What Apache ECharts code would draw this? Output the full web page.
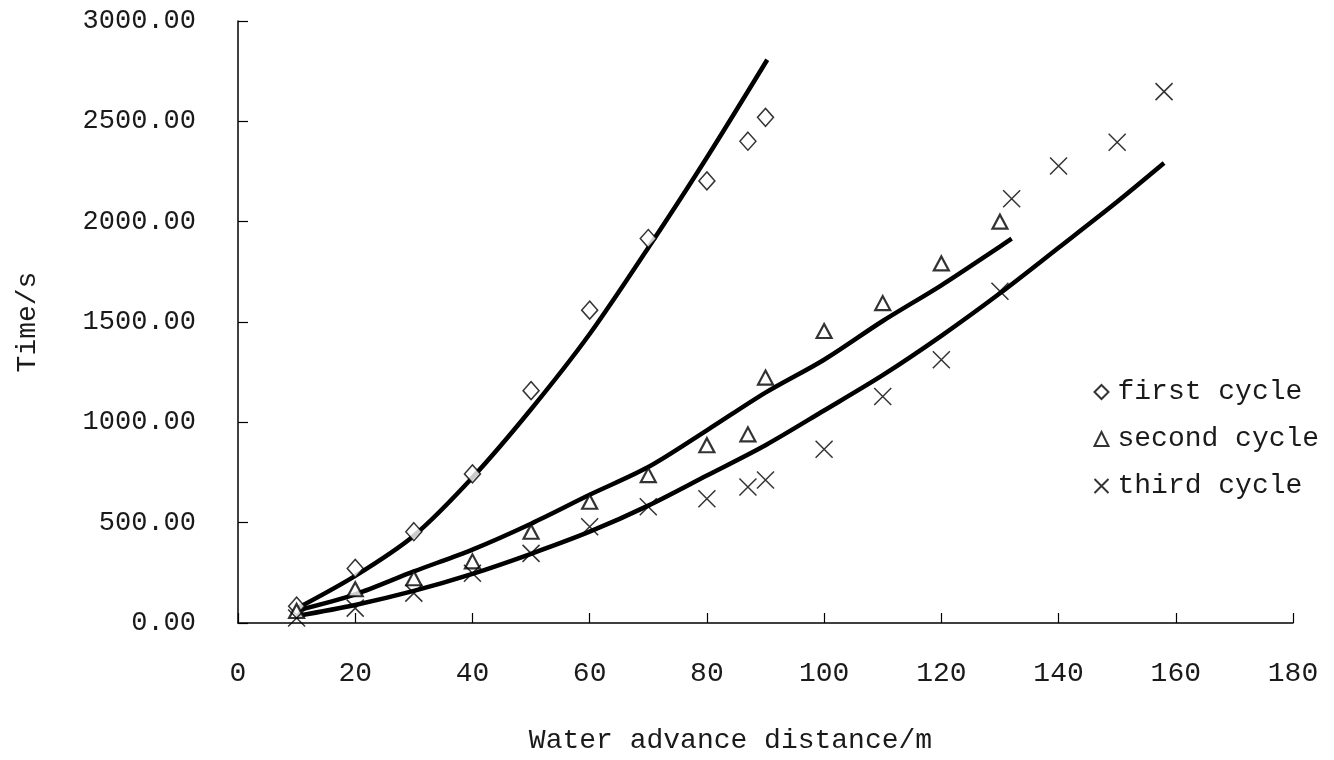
<!DOCTYPE html>
<html>
<head>
<meta charset="utf-8">
<script src="https://cdn.jsdelivr.net/npm/echarts@6/dist/echarts.min.js"></script>
<style>html,body{margin:0;padding:0;background:#fff;}#c{width:1334px;height:760px;}</style>
</head>
<body>
<div id="c"></div>
<script>
// Measured points
var firstX  = [10, 20, 30, 40, 50, 60, 70, 80, 87, 90];
var firstY  = [84, 272, 455, 743, 1158, 1559, 1916, 2203, 2401, 2520];
var secondX = [10, 20, 30, 40, 50, 60, 70, 80, 87, 90, 100, 110, 120, 130];
var secondY = [60, 168, 223, 307, 455, 604, 737, 886, 940, 1223, 1455, 1594, 1792, 2000];
var thirdX  = [10, 20, 30, 40, 50, 60, 70, 80, 87, 90, 100, 110, 120, 130, 132, 140, 150, 158];
var thirdY  = [25, 74, 149, 248, 347, 480, 579, 619, 678, 713, 866, 1129, 1312, 1653, 2114, 2277, 2396, 2648];
// Fitted curves
var fit1X = [10, 20, 30, 40, 50, 60, 70, 80, 90.3];
var fit1Y = [72, 235, 435, 725, 1065, 1440, 1870, 2320, 2807];
var fit2X = [10, 20, 30, 40, 50, 60, 70, 80, 90, 100, 110, 120, 130, 132];
var fit2Y = [62, 143, 257, 366, 495, 639, 777, 960, 1148, 1312, 1505, 1683, 1876, 1915];
var fit3X = [10, 20, 30, 40, 50, 60, 70, 80, 90, 100, 110, 120, 130, 140, 150, 158];
var fit3Y = [35, 90, 160, 245, 345, 455, 585, 735, 886, 1059, 1235, 1431, 1643, 1870, 2099, 2292];
var seriesNames = ['first cycle', 'second cycle', 'third cycle'];
var xAxisName = 'Water advance distance/m';
var yAxisName = 'Time/s';

function zip(xs, ys) { return xs.map(function (x, i) { return [x, ys[i]]; }); }

var FONT = '"Liberation Mono", "DejaVu Sans Mono", monospace';
var TXT = '#1a1a1a';
var hollow = { color: '#ffffff', borderColor: '#000000', borderWidth: 1.5 };
var crossPath = 'path://M0,0L10,10M10,0L0,10';

function fitLine(xs, ys) {
  return {
    type: 'line', data: zip(xs, ys), smooth: 0.3, symbol: 'none', silent: true,
    lineStyle: { color: '#000', width: 4.5 }, z: 2
  };
}

var chart = echarts.init(document.getElementById('c'), null, { renderer: 'canvas' });
chart.setOption({
  animation: false,
  backgroundColor: '#ffffff',
  grid: { left: 238, right: 41, top: 21, bottom: 133, containLabel: false },
  legend: {
    orient: 'vertical', left: 1087, top: 372,
    itemWidth: 14, itemHeight: 14, itemGap: 17,
    data: seriesNames,
    textStyle: { fontFamily: FONT, fontSize: 28, color: TXT, lineHeight: 30, padding: [0, 0, 0, 4] }
  },
  xAxis: {
    type: 'value', min: 0, max: 180, interval: 20,
    name: xAxisName, nameLocation: 'middle', nameGap: 104,
    nameTextStyle: { fontFamily: FONT, fontSize: 28, color: TXT, padding: [0, 70, 0, 0] },
    axisLine: { show: true, lineStyle: { color: '#000', width: 1.5 } },
    axisTick: { show: true, inside: true, length: 10, lineStyle: { color: '#000', width: 1.2 } },
    axisLabel: { fontFamily: FONT, fontSize: 28, color: TXT, margin: 37 },
    splitLine: { show: false }
  },
  yAxis: {
    type: 'value', min: 0, max: 3000, interval: 500,
    name: yAxisName, nameLocation: 'middle', nameGap: 196, nameRotate: 90,
    nameTextStyle: { fontFamily: FONT, fontSize: 28, color: TXT },
    axisLine: { show: true, lineStyle: { color: '#000', width: 1.5 } },
    axisTick: { show: true, inside: true, length: 10, lineStyle: { color: '#000', width: 1.2 } },
    axisLabel: { fontFamily: FONT, fontSize: 27, color: TXT, margin: 42,
      formatter: function (v) { return v.toFixed(2); } },
    splitLine: { show: false }
  },
  series: [
    fitLine(fit1X, fit1Y),
    fitLine(fit2X, fit2Y),
    fitLine(fit3X, fit3Y),
    { name: seriesNames[0], type: 'scatter', data: zip(firstX, firstY), symbol: 'diamond', symbolSize: [16, 18],
      itemStyle: hollow, z: 3 },
    { name: seriesNames[1], type: 'scatter', data: zip(secondX, secondY), symbol: 'triangle', symbolSize: [15, 14],
      itemStyle: { color: '#ffffff', borderColor: '#000', borderWidth: 2.2 }, z: 3 },
    { name: seriesNames[2], type: 'scatter', data: zip(thirdX, thirdY), symbol: crossPath, symbolSize: 17,
      itemStyle: { color: 'none', borderColor: '#000', borderWidth: 1.5 }, z: 3 }
  ]
});
</script>
</body>
</html>
